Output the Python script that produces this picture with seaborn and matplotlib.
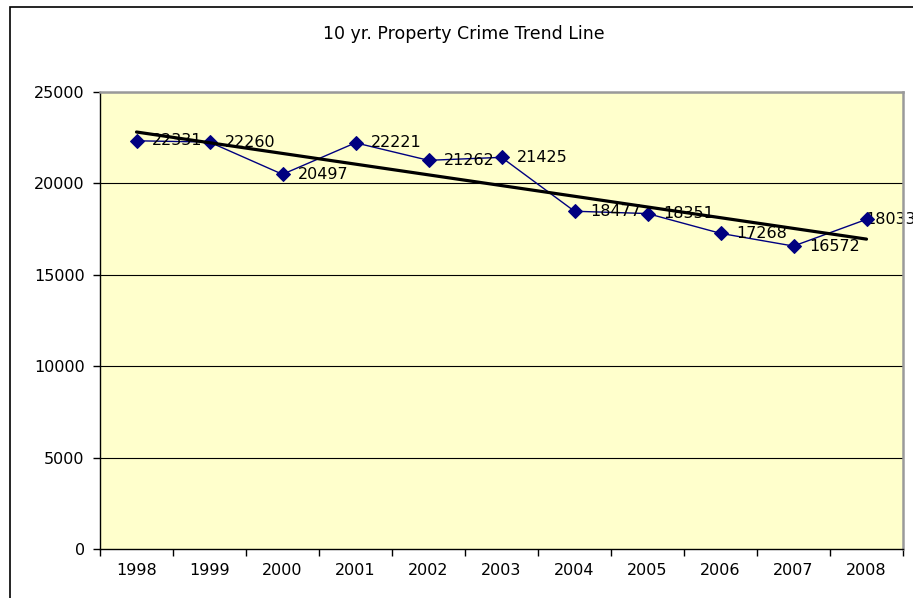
import numpy as np
import pandas as pd
import matplotlib
matplotlib.use("Agg")
import matplotlib.pyplot as plt
from matplotlib.patches import Rectangle
from matplotlib.ticker import FixedLocator
import seaborn as sns

# ─── data ─────────────────────────────
years = ["1998", "1999", "2000", "2001", "2002", "2003", "2004", "2005", "2006", "2007", "2008"]
crimes = [22331, 22260, 20497, 22221, 21262, 21425, 18477, 18351, 17268, 16572, 18033]
y_ticks = [0, 5000, 10000, 15000, 20000, 25000]

df = pd.DataFrame({"pos": np.arange(len(years)), "crimes": crimes})

sns.set_theme(style="white")
plt.rcParams["font.family"] = ["DejaVu Sans"]

W, H = 913, 598
fig = plt.figure(figsize=(W / 100, H / 100), dpi=100)
fig.patch.set_facecolor("white")

# chart border (runs off the right / bottom edge like the original)
fig.patches.append(Rectangle((10 / W, -0.05), 1.2, 1 - 7 / H + 0.05, transform=fig.transFigure,
                             fill=False, edgecolor="black", linewidth=1.2, zorder=0))

ax = fig.add_axes([100 / W, 1 - 549 / H, 803 / W, (549 - 92) / H])
ax.set_facecolor("#FFFFCC")

# grid lines
for v in y_ticks[1:]:
    ax.axhline(v, color="black", linewidth=0.8, zorder=1)

sns.lineplot(data=df, x="pos", y="crimes", ax=ax, color="#000080", linewidth=1.0,
             marker="D", markersize=7, markeredgecolor="#000080", zorder=3)

# linear trend line
sns.regplot(data=df, x="pos", y="crimes", ax=ax, scatter=False, ci=None, truncate=True,
            line_kws={"color": "black", "linewidth": 2.3, "zorder": 4})

# data labels (the last one sits on its marker and runs off the chart, as in the original)
for i, v in enumerate(crimes):
    dx = 11 if i < len(crimes) - 1 else -1
    ax.annotate(str(v), (i, v), xytext=(dx, 0), textcoords="offset points",
                ha="left", va="center", fontsize=11.5, color="black",
                annotation_clip=False, zorder=2 if i == len(crimes) - 1 else 5)

ax.set_xlim(-0.5, len(years) - 0.5)
ax.set_ylim(0, 25000)
ax.set_xticks(np.arange(len(years)))
ax.set_xticklabels(years)
ax.xaxis.set_minor_locator(FixedLocator(np.arange(-0.5, len(years), 1.0)))
ax.set_yticks(y_ticks)
ax.set_yticklabels([str(t) for t in y_ticks])
ax.tick_params(axis="x", which="major", length=0, pad=10, labelsize=11.5, labelcolor="black")
ax.tick_params(axis="x", which="minor", length=5, width=1, direction="out", bottom=True, color="black")
ax.tick_params(axis="y", length=5, width=1, direction="out", left=True, pad=6, labelsize=11.5,
               color="black", labelcolor="black")
ax.set_xlabel("")
ax.set_ylabel("")

ax.spines["left"].set_color("black")
ax.spines["bottom"].set_color("black")
ax.spines["left"].set_linewidth(1.0)
ax.spines["bottom"].set_linewidth(1.0)
ax.spines["top"].set_color("#9a9a9a")
ax.spines["right"].set_color("#9a9a9a")
ax.spines["top"].set_linewidth(1.8)
ax.spines["right"].set_linewidth(1.8)

fig.text(464 / W, 1 - 34 / H, "10 yr. Property Crime Trend Line", ha="center", va="center",
         fontsize=12.5, color="black")

fig.savefig("out.png", dpi=100)
